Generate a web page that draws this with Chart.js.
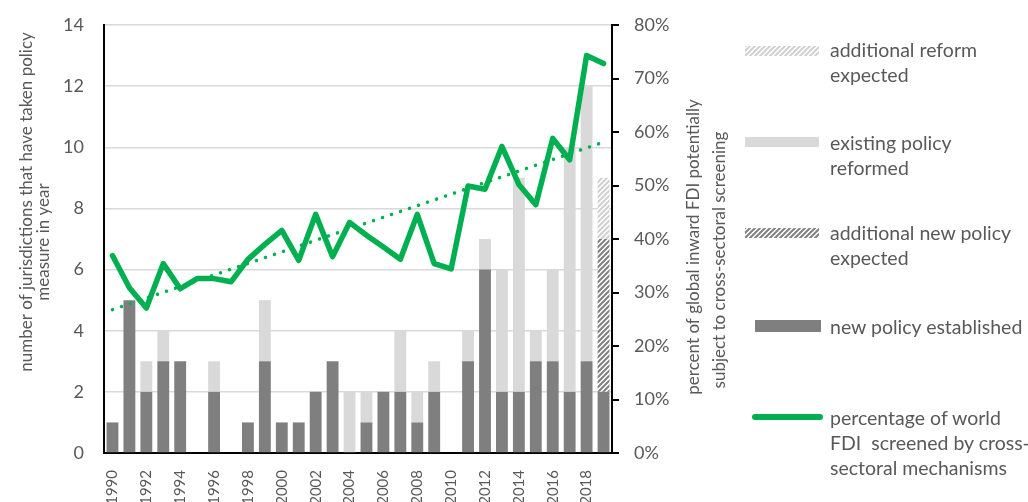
<!DOCTYPE html>
<html>
<head>
<meta charset="utf-8">
<script src="https://cdn.jsdelivr.net/npm/chart.js@4/dist/chart.umd.min.js"></script>
<style>
  body { margin: 0; background: #fff; }
  #wrap { position: relative; width: 1028px; height: 502px; overflow: hidden; }
  .item { position: absolute; left: 0; font: 19.5px Lato, sans-serif; color: #595959; }
  .sw { position: absolute; left: 745px; width: 74px; height: 10px; }
  .txt { position: absolute; left: 830px; line-height: 25px; white-space: nowrap; }
</style>
</head>
<body>
<div id="wrap">
  <canvas id="fdiChart" width="1028" height="502"></canvas>

  <div class="sw" id="swReformExp" style="top:46px"></div>
  <div class="txt item" style="top:37px; left:830px">additional reform<br>expected</div>

  <div class="sw" id="swReformed" style="top:137px; background:#d9d9d9"></div>
  <div class="txt item" style="top:130px; left:830px">existing policy<br>reformed</div>

  <div class="sw" id="swNewExp" style="top:228px"></div>
  <div class="txt item" style="top:220px; left:830px">additional new policy<br>expected</div>

  <div class="sw" id="swNew" style="top:320px; left:755px; width:66px; height:12px; background:#7f7f7f"></div>
  <div class="txt item" style="top:314px; left:830px">new policy established</div>

  <div class="sw" style="top:414px; left:752px; width:71px; height:6px; border-radius:3px; background:#00b050"></div>
  <div class="txt item" style="top:405px; left:830px">percentage of world<br>FDI&nbsp; screened by cross-<br>sectoral mechanisms</div>
</div>
<script>
const years = ['1990','1991','1992','1993','1994','1995','1996','1997','1998','1999',
               '2000','2001','2002','2003','2004','2005','2006','2007','2008','2009',
               '2010','2011','2012','2013','2014','2015','2016','2017','2018','2019'];

// number of jurisdictions (left axis)
const newPolicy      = [1,5,2,3,3,0,2,0,1,3, 1,1,2,3,0,1,2,2,1,2, 0,3,6,2,2,3,3,2,3,2];
const reformed       = [0,0,1,1,0,0,1,0,0,2, 0,0,0,0,2,1,0,2,1,1, 0,1,1,4,7,1,3,8,9,0];
const newExpected    = [0,0,0,0,0,0,0,0,0,0, 0,0,0,0,0,0,0,0,0,0, 0,0,0,0,0,0,0,0,0,5];
const reformExpected = [0,0,0,0,0,0,0,0,0,0, 0,0,0,0,0,0,0,0,0,0, 0,0,0,0,0,0,0,0,0,2];

// percent of world FDI screened (right axis)
const fdiShare = [36.9,30.9,27.1,35.4,30.7,32.6,32.6,32.0,36.2,39.0,
                  41.6,36.0,44.6,36.7,43.1,40.7,38.5,36.2,44.6,35.4,
                  34.4,49.9,49.3,57.3,50.2,46.4,58.8,54.8,74.3,72.8];
// linear trend, read at its two ends
const trend = [26.8,null,null,null,null,null,null,null,null,null,
               null,null,null,null,null,null,null,null,null,null,
               null,null,null,null,null,null,null,null,null,58.1];

const leftTitle = ['number of jurisdictions that have taken policy', 'measure in year'];
const rightTitle = ['percent of global inward FDI potentially', 'subject to cross-sectoral screening'];

function hatch(stripe) {
  const c = document.createElement('canvas');
  c.width = 5; c.height = 5;
  const g = c.getContext('2d');
  g.fillStyle = '#fff';
  g.fillRect(0, 0, 5, 5);
  g.strokeStyle = stripe;
  g.lineWidth = 2;
  g.beginPath();
  g.moveTo(-1, 6); g.lineTo(6, -1);
  g.moveTo(-1, 1); g.lineTo(1, -1);
  g.moveTo(4, 6); g.lineTo(6, 4);
  g.stroke();
  return c;
}
const lightHatch = hatch('#d0d0d0');
const darkHatch = hatch('#808080');
document.getElementById('swReformExp').style.background = 'url(' + lightHatch.toDataURL() + ')';
document.getElementById('swNewExp').style.background = 'url(' + darkHatch.toDataURL() + ')';

const ctx = document.getElementById('fdiChart').getContext('2d');

Chart.defaults.font.family = 'Lato';
Chart.defaults.color = '#595959';

// axis titles: both read bottom-to-top like the original
const axisTitles = {
  id: 'axisTitles',
  afterDraw(chart) {
    const c = chart.ctx;
    const put = (text, x, y) => {
      c.save();
      c.translate(x, y);
      c.rotate(-Math.PI / 2);
      c.fillText(text, 0, 0);
      c.restore();
    };
    c.save();
    c.fillStyle = '#595959';
    c.font = '17px Lato';
    c.textAlign = 'center';
    c.textBaseline = 'middle';
    put(leftTitle[0], 27, 202);
    put(leftTitle[1], 44, 242);
    put(rightTitle[0], 694, 247);
    put(rightTitle[1], 720, 260);
    c.restore();
  }
};

new Chart(ctx, {
  type: 'bar',
  data: {
    labels: years,
    datasets: [
      { type: 'line', label: 'percentage of world FDI screened', data: fdiShare, yAxisID: 'y1',
        borderColor: '#00b050', borderWidth: 5.5, pointRadius: 0, tension: 0,
        borderJoinStyle: 'round', borderCapStyle: 'round', order: 0 },
      { type: 'line', label: 'trend', data: trend, yAxisID: 'y1', spanGaps: true,
        borderColor: '#00b050', borderWidth: 3.5, borderDash: [0.01, 9.5],
        borderCapStyle: 'round', pointRadius: 0, order: 0 },
      { label: 'new policy established', data: newPolicy, backgroundColor: '#7f7f7f', order: 1 },
      { label: 'existing policy reformed', data: reformed, backgroundColor: '#d9d9d9', order: 1 },
      { label: 'additional new policy expected', data: newExpected,
        backgroundColor: ctx.createPattern(darkHatch, 'repeat'), order: 1 },
      { label: 'additional reform expected', data: reformExpected,
        backgroundColor: ctx.createPattern(lightHatch, 'repeat'), order: 1 }
    ]
  },
  options: {
    responsive: false,
    animation: false,
    layout: { padding: { top: 25, right: 288, bottom: 0, left: 0 } },
    datasets: { bar: { barPercentage: 0.7, categoryPercentage: 1, borderWidth: 0 } },
    plugins: { legend: { display: false }, tooltip: { enabled: false } },
    scales: {
      x: {
        stacked: true,
        grid: { display: false, drawTicks: false },
        border: { color: '#000', width: 2 },
        ticks: {
          autoSkip: false, minRotation: 90, maxRotation: 90, padding: 17,
          font: { size: 15 },
          callback(v, i) { return i % 2 === 0 ? this.getLabelForValue(v) : ''; }
        },
        afterFit(s) { s.height = 49; }
      },
      y: {
        stacked: true, min: 0, max: 14,
        grid: { color: '#d9d9d9', lineWidth: 1.5, drawTicks: false },
        border: { color: '#000', width: 2 },
        ticks: { stepSize: 2, padding: 20, font: { size: 18 } },
        afterFit(s) { s.width = 104; s.paddingTop = 0; s.paddingBottom = 0; }
      },
      y1: {
        position: 'right', min: 0, max: 80,
        grid: { drawOnChartArea: false, color: '#000', tickLength: 7, lineWidth: 2 },
        border: { color: '#000', width: 2 },
        ticks: { stepSize: 10, padding: 15, font: { size: 18 }, callback: v => v + '%' },
        afterFit(s) { s.width = 128; s.paddingTop = 0; s.paddingBottom = 0; }
      }
    }
  },
  plugins: [axisTitles]
});
</script>
</body>
</html>
